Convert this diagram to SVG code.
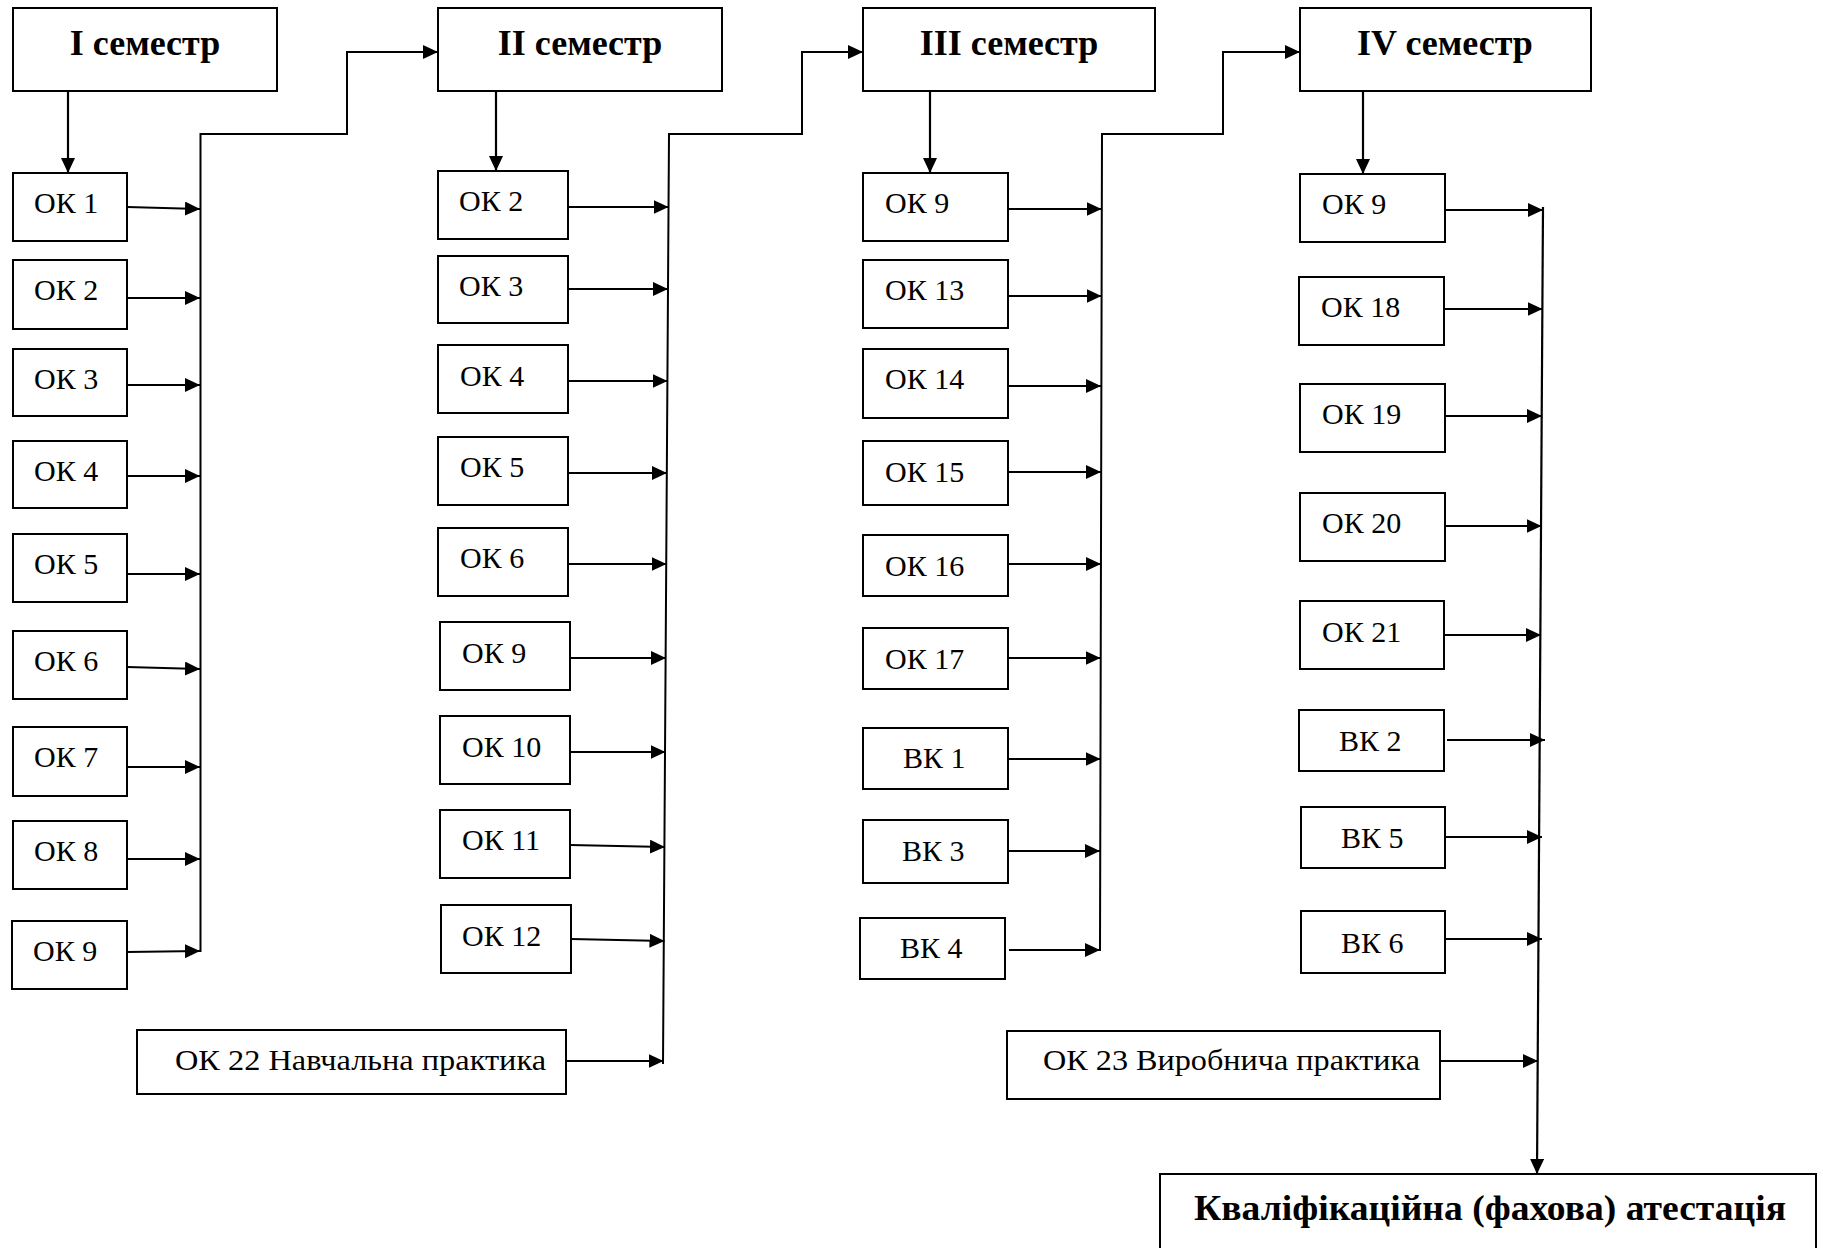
<svg xmlns="http://www.w3.org/2000/svg" width="1823" height="1248" viewBox="0 0 1823 1248">
<style>
.b{fill:#fff;stroke:#000;stroke-width:2}
.t{font-family:"Liberation Serif","Times New Roman",serif;font-size:30px;fill:#000}
.h{font-family:"Liberation Serif","Times New Roman",serif;font-size:36px;font-weight:bold;fill:#000;text-anchor:middle}
.c{fill:none;stroke:#000;stroke-width:2}
.a{fill:none;stroke:#000;stroke-width:2.2;marker-end:url(#ar)}
</style>
<defs>
<marker id="ar" viewBox="0 0 15 14" refX="15" refY="7" markerWidth="15" markerHeight="14" markerUnits="userSpaceOnUse" orient="auto">
<path d="M0,0 L15,7 L0,14 Z" fill="#000"/>
</marker>
</defs>
<rect width="1823" height="1248" fill="#fff"/>

<g id="connectors">
<line class="a" x1="68" y1="91" x2="68" y2="173"/>
<line class="a" x1="496" y1="91" x2="496" y2="171"/>
<line class="a" x1="930" y1="91" x2="930" y2="173"/>
<line class="a" x1="1363" y1="91" x2="1363" y2="174"/>
<polyline class="c" points="200.5,952 200.5,134 347,134 347,52"/>
<line class="a" x1="346" y1="52" x2="438" y2="52"/>
<polyline class="c" points="663,1064 669,134 802,134 802,52"/>
<line class="a" x1="801" y1="52" x2="863" y2="52"/>
<polyline class="c" points="1100,951 1102,134 1223,134 1223,52"/>
<line class="a" x1="1222" y1="52" x2="1300" y2="52"/>
<line class="a" x1="1543" y1="207" x2="1537" y2="1174"/>
<line class="a" x1="127" y1="207" x2="200" y2="209"/>
<line class="a" x1="127" y1="298" x2="200" y2="298"/>
<line class="a" x1="127" y1="385" x2="200" y2="385"/>
<line class="a" x1="127" y1="476" x2="200" y2="476"/>
<line class="a" x1="127" y1="574" x2="200" y2="574"/>
<line class="a" x1="127" y1="667" x2="200" y2="669"/>
<line class="a" x1="127" y1="767" x2="200" y2="767"/>
<line class="a" x1="127" y1="859" x2="200" y2="859"/>
<line class="a" x1="127" y1="952" x2="200" y2="951"/>
<line class="a" x1="568" y1="207" x2="668.5" y2="207"/>
<line class="a" x1="568" y1="289" x2="668" y2="289"/>
<line class="a" x1="568" y1="381" x2="667.5" y2="381"/>
<line class="a" x1="568" y1="473" x2="667" y2="473"/>
<line class="a" x1="568" y1="564" x2="666.5" y2="564"/>
<line class="a" x1="570" y1="658" x2="666" y2="658"/>
<line class="a" x1="570" y1="752" x2="665.5" y2="752"/>
<line class="a" x1="570" y1="845" x2="665" y2="847"/>
<line class="a" x1="571" y1="939" x2="664.5" y2="941"/>
<line class="a" x1="566" y1="1061" x2="663.5" y2="1061"/>
<line class="a" x1="1008" y1="209" x2="1101.5" y2="209"/>
<line class="a" x1="1008" y1="296" x2="1101.5" y2="296"/>
<line class="a" x1="1008" y1="386" x2="1101" y2="386"/>
<line class="a" x1="1008" y1="472" x2="1101" y2="472"/>
<line class="a" x1="1008" y1="564" x2="1101" y2="564"/>
<line class="a" x1="1008" y1="658" x2="1100.5" y2="658"/>
<line class="a" x1="1008" y1="759" x2="1100.5" y2="759"/>
<line class="a" x1="1008" y1="851" x2="1100" y2="851"/>
<line class="a" x1="1009" y1="950" x2="1100" y2="950"/>
<line class="a" x1="1445" y1="210" x2="1543" y2="210"/>
<line class="a" x1="1444" y1="309" x2="1542.5" y2="309"/>
<line class="a" x1="1445" y1="416" x2="1542" y2="416"/>
<line class="a" x1="1445" y1="526" x2="1541.5" y2="526"/>
<line class="a" x1="1444" y1="635" x2="1541" y2="635"/>
<line class="a" x1="1447" y1="740" x2="1545" y2="740"/>
<line class="a" x1="1445" y1="837" x2="1542" y2="837"/>
<line class="a" x1="1445" y1="939" x2="1542" y2="939"/>
<line class="a" x1="1441" y1="1061" x2="1538" y2="1061"/>
</g>

<g id="sem1"><rect class="b" x="13" y="8" width="264" height="83"/><text class="h" x="145" y="55">I семестр</text></g>
<g id="sem2"><rect class="b" x="438" y="8" width="284" height="83"/><text class="h" x="580" y="55">II семестр</text></g>
<g id="sem3"><rect class="b" x="863" y="8" width="292" height="83"/><text class="h" x="1009" y="55">III семестр</text></g>
<g id="sem4"><rect class="b" x="1300" y="8" width="291" height="83"/><text class="h" x="1445" y="55">IV семестр</text></g>

<g id="c1-ok1"><rect class="b" x="13" y="173" width="114" height="68"/><text class="t" x="34" y="213">ОК 1</text></g>
<g id="c1-ok2"><rect class="b" x="13" y="260" width="114" height="69"/><text class="t" x="34" y="300">ОК 2</text></g>
<g id="c1-ok3"><rect class="b" x="13" y="349" width="114" height="67"/><text class="t" x="34" y="389">ОК 3</text></g>
<g id="c1-ok4"><rect class="b" x="13" y="441" width="114" height="67"/><text class="t" x="34" y="481">ОК 4</text></g>
<g id="c1-ok5"><rect class="b" x="13" y="534" width="114" height="68"/><text class="t" x="34" y="574">ОК 5</text></g>
<g id="c1-ok6"><rect class="b" x="13" y="631" width="114" height="68"/><text class="t" x="34" y="671">ОК 6</text></g>
<g id="c1-ok7"><rect class="b" x="13" y="727" width="114" height="69"/><text class="t" x="34" y="767">ОК 7</text></g>
<g id="c1-ok8"><rect class="b" x="13" y="821" width="114" height="68"/><text class="t" x="34" y="861">ОК 8</text></g>
<g id="c1-ok9"><rect class="b" x="12" y="921" width="115" height="68"/><text class="t" x="33" y="961">ОК 9</text></g>

<g id="c2-ok2"><rect class="b" x="438" y="171" width="130" height="68"/><text class="t" x="459" y="211">ОК 2</text></g>
<g id="c2-ok3"><rect class="b" x="438" y="256" width="130" height="67"/><text class="t" x="459" y="296">ОК 3</text></g>
<g id="c2-ok4"><rect class="b" x="438" y="345" width="130" height="68"/><text class="t" x="460" y="386">ОК 4</text></g>
<g id="c2-ok5"><rect class="b" x="438" y="437" width="130" height="68"/><text class="t" x="460" y="477">ОК 5</text></g>
<g id="c2-ok6"><rect class="b" x="438" y="528" width="130" height="68"/><text class="t" x="460" y="568">ОК 6</text></g>
<g id="c2-ok9"><rect class="b" x="440" y="622" width="130" height="68"/><text class="t" x="462" y="663">ОК 9</text></g>
<g id="c2-ok10"><rect class="b" x="440" y="716" width="130" height="68"/><text class="t" x="462" y="757">ОК 10</text></g>
<g id="c2-ok11"><rect class="b" x="440" y="810" width="130" height="68"/><text class="t" x="462" y="850">ОК 11</text></g>
<g id="c2-ok12"><rect class="b" x="441" y="905" width="130" height="68"/><text class="t" x="462" y="946">ОК 12</text></g>
<g id="c2-ok22"><rect class="b" x="137" y="1030" width="429" height="64"/><text class="t" x="175" y="1070" textLength="371" lengthAdjust="spacingAndGlyphs">ОК 22 Навчальна практика</text></g>

<g id="c3-ok9"><rect class="b" x="863" y="173" width="145" height="68"/><text class="t" x="885" y="213">ОК 9</text></g>
<g id="c3-ok13"><rect class="b" x="863" y="260" width="145" height="68"/><text class="t" x="885" y="300">ОК 13</text></g>
<g id="c3-ok14"><rect class="b" x="863" y="349" width="145" height="69"/><text class="t" x="885" y="389">ОК 14</text></g>
<g id="c3-ok15"><rect class="b" x="863" y="441" width="145" height="64"/><text class="t" x="885" y="482">ОК 15</text></g>
<g id="c3-ok16"><rect class="b" x="863" y="535" width="145" height="61"/><text class="t" x="885" y="576">ОК 16</text></g>
<g id="c3-ok17"><rect class="b" x="863" y="628" width="145" height="61"/><text class="t" x="885" y="669">ОК 17</text></g>
<g id="c3-vk1"><rect class="b" x="863" y="728" width="145" height="61"/><text class="t" x="903" y="768">ВК 1</text></g>
<g id="c3-vk3"><rect class="b" x="863" y="820" width="145" height="63"/><text class="t" x="902" y="861">ВК 3</text></g>
<g id="c3-vk4"><rect class="b" x="860" y="918" width="145" height="61"/><text class="t" x="900" y="958">ВК 4</text></g>
<g id="c3-ok23"><rect class="b" x="1007" y="1031" width="433" height="68"/><text class="t" x="1043" y="1070" textLength="377" lengthAdjust="spacingAndGlyphs">ОК 23 Виробнича практика</text></g>

<g id="c4-ok9"><rect class="b" x="1300" y="174" width="145" height="68"/><text class="t" x="1322" y="214">ОК 9</text></g>
<g id="c4-ok18"><rect class="b" x="1299" y="277" width="145" height="68"/><text class="t" x="1321" y="317">ОК 18</text></g>
<g id="c4-ok19"><rect class="b" x="1300" y="384" width="145" height="68"/><text class="t" x="1322" y="424">ОК 19</text></g>
<g id="c4-ok20"><rect class="b" x="1300" y="493" width="145" height="68"/><text class="t" x="1322" y="533">ОК 20</text></g>
<g id="c4-ok21"><rect class="b" x="1300" y="601" width="144" height="68"/><text class="t" x="1322" y="642">ОК 21</text></g>
<g id="c4-vk2"><rect class="b" x="1299" y="710" width="145" height="61"/><text class="t" x="1339" y="751">ВК 2</text></g>
<g id="c4-vk5"><rect class="b" x="1301" y="807" width="144" height="61"/><text class="t" x="1341" y="848">ВК 5</text></g>
<g id="c4-vk6"><rect class="b" x="1301" y="911" width="144" height="62"/><text class="t" x="1341" y="953">ВК 6</text></g>

<g id="final"><rect class="b" x="1160" y="1174" width="656" height="90"/><text class="h" x="1490" y="1220" textLength="592" lengthAdjust="spacingAndGlyphs">Кваліфікаційна (фахова) атестація</text></g>
</svg>
